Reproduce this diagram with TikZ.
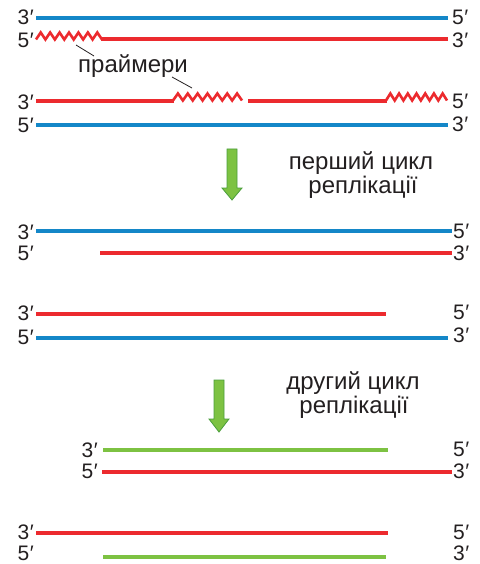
\documentclass[tikz,border=0pt]{standalone}
\usepackage{fontspec}
\setmainfont{Liberation Sans}
\definecolor{dnablue}{HTML}{1487C8}
\definecolor{dnared}{HTML}{EC2A2E}
\definecolor{dnagreen}{HTML}{7DC242}
\definecolor{arrowedge}{HTML}{4A9E3C}
\definecolor{txt}{HTML}{231F20}
\tikzset{
  strand/.style={line width=4pt},
  bluestrand/.style={strand, draw=dnablue},
  redstrand/.style={strand, draw=dnared},
  greenstrand/.style={strand, draw=dnagreen},
  primer/.style={draw=dnared, line width=2.6pt, line join=miter, miter limit=3},
  endlab/.style={inner sep=0pt, text=txt, font=\fontsize{21}{21}\selectfont},
  caption/.style={inner sep=0pt, text=txt, font=\fontsize{24}{26}\selectfont, anchor=base},
  downarrow/.style={fill=dnagreen, draw=arrowedge, line width=0.8pt, line join=miter},
  leader/.style={draw=txt, line width=0.8pt}
}
\newcommand{\pr}{\kern0.6pt′}
\newcommand{\zigpath}[3]{%
  \draw[primer] (#1,#3) \foreach \i in {1,...,7} { -- ({#1+(\i-0.5)*(#2-#1)/7},{#3-7}) -- ({#1+\i*(#2-#1)/7},#3) };}
\newcommand{\downarr}[5]{% x-left shaft, x-right shaft, top, head start, tip
  \draw[downarrow] (#1,#3) -- (#2,#3) -- (#2,#4) -- ({#2+5},#4) -- ({(#1+#2)/2},#5) -- ({#1-5},#4) -- (#1,#4) -- cycle;}
\begin{document}
\begin{tikzpicture}[x=1pt,y=-1pt]
\useasboundingbox (0,0) rectangle (479,564);

% ---- initial duplex with primers ----
\draw[bluestrand] (36,18) -- (448,18);
\zigpath{36}{102}{39.5}
\draw[redstrand] (101,39.5) -- (448,39.5);
\node[endlab, anchor=east] (l1) at (34,17.5) {3\pr};
\node[endlab, anchor=east] (l2) at (34,40) {5\pr};
\node[endlab, anchor=west] (r1) at (452,17.5) {5\pr};
\node[endlab, anchor=west] (r2) at (452,40) {3\pr};

\draw[redstrand] (36,101) -- (174,101);
\zigpath{173}{242}{100.5}
\draw[redstrand] (248,101) -- (387,101);
\zigpath{386}{447}{100.5}
\draw[bluestrand] (36,125) -- (448,125);
\node[endlab, anchor=east] (l3) at (34,102) {3\pr};
\node[endlab, anchor=east] (l4) at (34,125) {5\pr};
\node[endlab, anchor=west] (r3) at (452,101) {5\pr};
\node[endlab, anchor=west] (r4) at (452,124) {3\pr};

\node[caption] (prim) at (133,73) {праймери};
\coordinate (p1a) at (76,45);
\coordinate (p1b) at (94,56);
\coordinate (p2a) at (172,77);
\coordinate (p2b) at (192,88);
\draw[leader] (p1a) -- (p1b);
\draw[leader] (p2a) -- (p2b);

% ---- first cycle ----
\downarr{227}{237}{149}{188}{200}
\node[caption] (c1a) at (361,170) {перший цикл};
\node[caption] (c1b) at (363,193) {реплікації};

\draw[bluestrand] (36,231) -- (452,231);
\draw[redstrand] (100,253) -- (452,253);
\node[endlab, anchor=east] (l5) at (34,232) {3\pr};
\node[endlab, anchor=east] (l6) at (34,253) {5\pr};
\node[endlab, anchor=west] (r5) at (453,231) {5\pr};
\node[endlab, anchor=west] (r6) at (453,253) {3\pr};

\draw[redstrand] (36,314) -- (386,314);
\draw[bluestrand] (36,338) -- (448,338);
\node[endlab, anchor=east] (l7) at (34,313) {3\pr};
\node[endlab, anchor=east] (l8) at (34,337) {5\pr};
\node[endlab, anchor=west] (r7) at (453,312) {5\pr};
\node[endlab, anchor=west] (r8) at (453,335) {3\pr};

% ---- second cycle ----
\downarr{214}{224}{380}{419}{432}
\node[caption] (c2a) at (353,389) {другий цикл};
\node[caption] (c2b) at (354,413) {реплікації};

\draw[greenstrand] (103,450) -- (388,450);
\draw[redstrand] (102,472) -- (452,472);
\node[endlab, anchor=east] (l9) at (98,450) {3\pr};
\node[endlab, anchor=east] (l10) at (98,471) {5\pr};
\node[endlab, anchor=west] (r9) at (453,449) {5\pr};
\node[endlab, anchor=west] (r10) at (453,471) {3\pr};

\draw[redstrand] (36,533) -- (388,533);
\draw[greenstrand] (103,557) -- (386,557);
\node[endlab, anchor=east] (l11) at (34,532.5) {3\pr};
\node[endlab, anchor=east] (l12) at (34,553.5) {5\pr};
\node[endlab, anchor=west] (r11) at (453,532.5) {5\pr};
\node[endlab, anchor=west] (r12) at (453,553.5) {3\pr};
\end{tikzpicture}
\end{document}
